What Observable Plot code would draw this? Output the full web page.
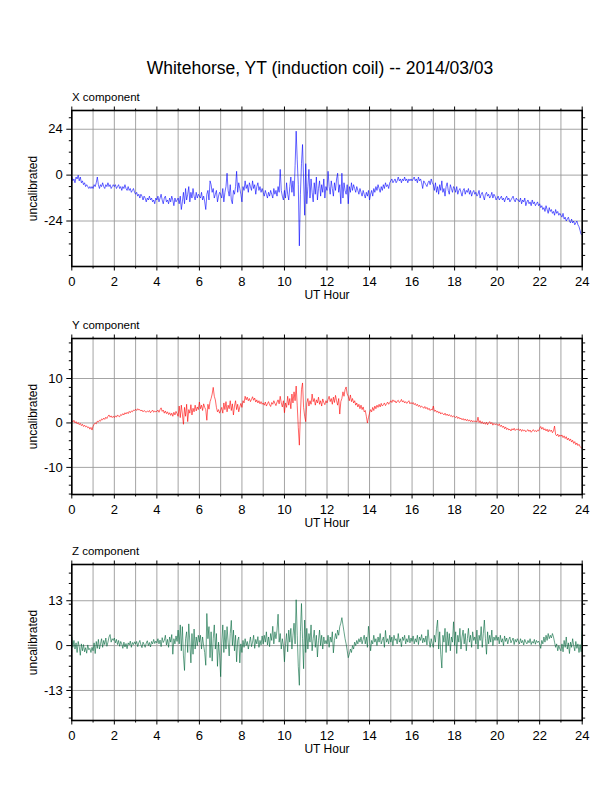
<!DOCTYPE html>
<html>
<head>
<meta charset="utf-8">
<script src="https://cdn.jsdelivr.net/npm/d3@7"></script>
<script src="https://cdn.jsdelivr.net/npm/@observablehq/plot@0.6"></script>
<style>
  html, body { margin: 0; padding: 0; background: #fff; }
  #page { position: relative; width: 612px; height: 792px; overflow: hidden;
          font-family: "Liberation Sans", Arial, Helvetica, sans-serif; color: #000; }
  .title { position: absolute; left: 0; width: 640px; text-align: center; font-size: 17.5px; line-height: 1; top: 60.2px; white-space: nowrap; }
  .plabel { position: absolute; left: 72px; font-size: 11.5px; line-height: 1; white-space: nowrap; }
  .panel { position: absolute; left: 0; }
</style>
</head>
<body>
<div id="page">
  <div class="title">Whitehorse, YT (induction coil) -- 2014/03/03</div>
</div>
<script>
// ---- data (samples every 0.05 h from 0 to 24 UT) ----
const xComponent = [
  -1,-3,-2,-4,-1,-2,0,-3,-1,-4,-3,-5,-4,-6,-5,-6,-7,-6,-7,-6,
  -7,-5,-6,-4,-1,-5,-7,-5,-6,-4,-6,-7,-5,-6,-4,-6,-5,-7,-6,-5,
  -6,-5,-7,-6,-5,-7,-6,-8,-6,-7,-5,-7,-8,-6,-8,-7,-9,-8,-7,-9,
  -10,-9,-11,-10,-12,-10,-11,-13,-11,-12,-14,-12,-13,-11,-13,-12,-14,-13,-15,-12,
  -13,-11,-14,-12,-10,-13,-15,-12,-11,-14,-13,-15,-12,-14,-11,-13,-16,-12,-14,-13,
  -12,-15,-11,-18,-14,-9,-15,-7,-13,-10,-6,-14,-9,-12,-7,-11,-13,-9,-12,-10,
  -11,-12,-9,-13,-11,-14,-18,-10,-8,-13,-3,-5,-9,-7,-12,-10,-8,-14,-11,-9,
  -10,-12,-7,-14,-9,-6,1,-8,-11,-5,-13,-15,-8,-10,-6,2,-9,-4,-7,-10,
  -14,-6,-8,-3,-7,-5,-9,-4,-6,-8,-3,-7,-5,-10,-6,-4,-8,-6,-9,-7,
  -9,-11,-8,-10,-12,-9,-11,-8,-10,-12,-7,-10,-8,-11,-6,-9,3,-8,-11,-13,
  -8,-12,-4,-10,-13,-6,-1,-9,-3,-11,5,23,8,-5,-37,-10,6,16,-2,-21,
  6,-15,-6,3,-12,-2,-9,-14,-4,-10,-1,-13,-7,-3,-11,-5,-9,-2,-12,-6,
  -8,2,-6,-10,-3,-7,-11,-4,-8,-2,1,-9,-5,-15,1,-12,-4,-8,-10,-5,
  -15,-6,-9,-4,-8,-5,-7,-9,-6,-8,-10,-7,-9,-11,-8,-10,-12,-9,-11,-8,
  -13,-10,-8,-11,-7,-9,-6,-8,-5,-7,-9,-6,-8,-5,-7,-4,-6,-5,-7,-4,
  -3,-2,-4,-3,-2,-4,-3,-1,-3,-2,-4,-2,-3,-1,-3,-2,-4,-2,-3,-2,
  -3,-2,-1,-3,-2,-4,-1,-3,-2,-4,-7,-3,-4,-5,-6,-4,-3,-5,-2,-4,
  -5,-8,-4,-9,-6,-10,-5,-8,-3,-9,-7,-11,-6,-4,-8,-10,-5,-7,-9,-6,
  -7,-9,-6,-10,-8,-7,-9,-11,-8,-7,-10,-8,-9,-7,-10,-8,-11,-9,-8,-10,
  -9,-11,-10,-8,-12,-10,-9,-11,-13,-10,-9,-11,-10,-12,-11,-9,-12,-10,-11,-13,
  -12,-11,-13,-12,-11,-13,-12,-14,-12,-11,-13,-12,-14,-13,-12,-11,-13,-14,-12,-13,
  -13,-14,-12,-15,-13,-14,-12,-16,-14,-13,-15,-14,-16,-13,-15,-14,-16,-15,-14,-16,
  -15,-17,-16,-18,-17,-19,-16,-18,-20,-17,-19,-18,-20,-19,-21,-18,-20,-19,-21,-20,
  -21,-22,-20,-23,-22,-24,-23,-22,-24,-25,-23,-25,-24,-26,-25,-24,-26,-27,-29,-31,
  -31
];
const yComponent = [
  0.5,0.2,0.6,0,0.3,-0.2,0.1,-0.4,-0.1,-0.6,-0.3,-0.8,-0.5,-0.9,-0.7,-1.1,-0.9,-1.4,-1.0,-1.6,
  -0.8,-0.3,0,-0.2,0.4,0.2,0.6,0.4,0.9,0.7,1.1,0.8,1.3,1.0,1.5,1.8,1.3,1.6,1.2,1.5,
  1.2,1.6,1.3,1.8,1.5,1.4,1.9,1.7,2.1,1.8,2.3,2.0,2.4,2.1,2.6,2.3,2.7,2.5,2.9,2.8,
  3.1,2.8,3.2,2.9,3.0,2.7,2.9,2.5,2.8,2.6,2.4,2.7,2.5,2.8,2.3,2.6,2.9,2.4,2.7,2.5,
  2.6,2.9,2.4,3.0,3.4,2.6,2.9,2.2,2.7,2.1,2.5,1.9,2.3,1.7,2.2,1.5,2.4,1.8,2.6,2.1,
  1.5,3.8,1.2,4.0,2.0,-0.3,3.5,1.5,4.2,0.3,3.0,2.2,4.1,1.8,3.3,2.5,4.0,2.7,3.6,3.0,
  4.7,3.2,4.0,2.8,4.3,3.5,3.0,0.6,4.2,3.1,4.8,5.5,6.5,8.0,6.0,5.2,3.5,2.5,3.0,2.2,
  2.8,3.5,2.2,4.5,3.0,4.8,2.5,4.0,3.2,5.0,2.8,4.3,1.8,3.8,5.0,3.0,4.2,2.5,3.6,4.4,
  3.5,5.0,4.5,6.0,5.2,5.8,5.0,5.5,4.8,5.3,5.9,5.1,5.6,4.7,5.2,4.5,5.0,4.3,4.8,4.2,
  4.5,4.0,4.7,3.8,4.3,4.8,4.1,3.7,4.6,4.2,5.0,4.4,3.9,4.7,5.2,4.3,6.0,4.5,3.6,5.0,
  2.3,4.5,3.5,6.0,4.0,5.5,3.2,6.5,4.5,7.0,5.0,8.3,4.0,-1.0,-5.0,2.0,7.5,9.0,3.5,1.5,
  0.3,4.5,5.5,3.8,5.0,4.2,6.5,4.8,5.5,4.0,5.2,4.5,5.8,4.2,5.0,3.8,5.4,4.6,4.1,5.0,
  4.5,5.3,6.0,4.8,5.5,4.2,5.8,4.6,6.2,5.0,4.0,5.5,2.0,4.8,5.5,7.0,6.0,7.5,8.1,6.5,
  6.0,5.0,6.3,4.8,5.5,4.5,5.0,4.0,4.5,3.6,4.2,3.2,4.0,3.0,3.6,2.5,2.8,1.5,0.0,1.2,
  2.2,3.0,2.5,3.5,2.8,3.8,3.2,4.0,3.5,4.2,3.6,4.4,3.8,4.1,4.5,3.9,4.3,4.7,4.2,4.6,
  5.0,4.6,5.2,4.8,5.0,4.5,4.9,5.1,4.6,4.8,5.3,4.7,5.0,4.5,4.8,4.4,4.7,5.0,4.3,4.6,
  4.3,4.6,4.1,4.4,3.9,4.2,3.7,4.0,3.5,3.8,3.6,3.3,3.7,3.2,3.5,3.0,3.3,2.8,3.1,2.9,
  3.8,2.6,2.9,2.4,2.7,2.2,2.5,2.0,2.3,2.1,1.8,2.2,1.7,2.0,1.6,1.9,1.5,1.7,1.3,1.6,
  1.4,1.2,1.5,1.0,1.3,0.9,1.1,0.7,1.0,0.6,0.9,0.5,0.8,0.4,0.7,0.3,0.6,0.2,0.5,0.3,
  0.4,0.2,1.3,0.1,0.5,-0.1,0.3,-0.2,0.1,-0.3,0.2,-0.4,0.0,0.3,-0.2,0.1,-0.5,-0.1,-0.4,-0.2,
  -0.3,-0.6,-0.2,-0.8,-0.5,-1.0,-0.7,-1.3,-0.9,-1.5,-1.2,-1.6,-1.4,-1.8,-1.3,-1.6,-1.2,-1.7,-1.4,-1.5,
  -1.3,-1.7,-1.4,-1.9,-1.5,-1.8,-1.6,-2.0,-1.7,-1.5,-1.9,-1.6,-2.1,-1.8,-1.5,-1.9,-1.7,-2.0,-1.6,-1.8,
  -1.2,-0.8,-1.4,-1.0,-1.6,-1.3,-1.8,-1.4,-2.0,-1.5,-1.9,-1.6,-2.2,-1.8,-0.7,-2.6,-2.9,-2.5,-3.1,-2.7,
  -3.0,-2.7,-3.3,-2.9,-3.5,-3.1,-3.8,-3.4,-4.0,-3.6,-4.3,-3.9,-4.6,-4.2,-4.9,-4.5,-5.1,-4.8,-5.3,-5.6,
  -5.8
];
const zComponent = [
  2.5,-0.5,1.5,-1.0,0.8,-2.0,1.2,-0.3,-2.8,0.5,-1.5,0.3,-1.8,-0.6,-2.2,0.2,-1.2,-0.8,-2.0,-0.5,
  -1.5,0.8,-2.3,1.2,-0.8,1.8,-1.0,0.5,2.0,-0.5,1.5,0.3,2.2,-0.2,1.0,2.5,3.2,1.0,2.0,1.5,
  2.2,0.8,1.8,0.3,1.5,-0.2,1.2,0.5,-0.8,1.0,-0.4,0.6,-0.9,0.8,0.2,1.3,-0.5,0.9,0.3,1.1,
  0.4,1.2,-0.3,0.8,1.5,0.2,-0.6,1.0,0.3,-0.5,0.7,1.4,0.0,0.9,-0.4,1.2,0.5,1.8,0.6,1.3,
  0.8,2.0,0.5,1.6,-0.3,2.3,0.9,1.5,3.0,0.2,1.8,-0.5,2.5,1.0,3.2,-2.5,2.0,0.5,2.8,1.2,
  4.5,0.5,6.0,-1.5,5.5,-3.0,-7.2,2.0,4.0,-2.0,6.3,1.0,-5.0,3.5,-2.5,4.8,-1.0,2.5,0.0,3.0,
  1.0,3.0,-1.0,2.5,0.0,-2.0,-5.7,9.3,2.0,5.5,-3.5,4.0,-4.5,2.0,6.0,-1.0,3.5,-6.0,1.0,-3.0,
  -9.0,0.5,6.0,-2.0,4.5,-1.0,5.5,1.0,-3.0,3.5,7.3,0.0,4.5,-1.5,3.0,-4.7,1.5,2.5,-5.0,0.5,
  -2.0,1.5,-0.5,2.0,0.0,1.2,-1.0,0.8,2.5,-0.3,1.0,3.0,-0.8,1.8,0.5,2.6,-0.5,1.5,0.2,2.8,
  0.5,3.0,1.0,4.0,0.2,2.5,-0.3,3.5,1.5,5.6,0.5,4.0,2.0,4.5,9.1,1.0,3.5,-1.0,2.0,0.0,
  -4.7,0.5,3.5,-1.8,4.5,1.0,5.0,-1.0,3.0,6.5,0.5,13.3,3.0,-6.0,-11.5,4.0,12.2,2.0,-6.7,7.4,
  -2.0,5.0,-1.0,3.5,1.0,6.0,-1.5,2.0,4.5,-0.5,3.0,-3.3,1.5,4.5,0.0,3.0,-1.0,2.5,0.5,1.5,
  0.5,3.0,-0.5,2.5,1.0,4.0,-2.1,1.5,3.5,2.0,4.5,3.0,5.5,6.5,8.1,6.0,4.0,2.0,0.5,-1.5,
  -3.5,-2.5,-1.0,-2.0,0.0,-1.0,1.0,0.0,1.5,0.5,2.0,1.0,2.5,0.5,1.8,3.0,0.5,2.5,-0.5,5.6,
  2.0,-1.5,1.5,0.5,3.0,1.0,2.0,0.0,2.5,1.0,3.5,0.5,1.5,2.5,-0.5,4.4,1.0,2.0,0.5,3.0,
  1.0,2.5,0.0,3.0,1.5,2.0,0.5,3.5,1.0,2.0,-0.3,2.5,1.5,3.0,0.5,2.0,1.0,3.0,0.8,2.2,
  1.2,2.8,0.5,2.0,1.0,3.0,0.3,2.5,1.5,3.2,0.8,2.2,1.0,2.8,0.2,4.6,1.5,-0.5,2.0,0.5,
  -0.5,3.0,1.0,5.0,7.4,-1.0,4.0,-2.5,-6.5,3.0,1.0,5.0,-2.0,4.0,0.0,3.5,-1.5,2.5,1.0,6.9,
  0.0,4.0,-2.3,3.0,1.0,5.0,-1.0,2.5,4.5,0.5,3.5,-1.5,2.0,5.0,1.0,3.0,-0.5,4.0,1.5,2.5,
  0.5,4.5,-1.0,3.0,1.5,5.5,-0.5,3.5,7.4,2.0,-2.5,4.0,0.5,3.0,1.0,4.5,0.0,2.5,1.5,3.0,
  1.5,2.5,0.5,3.0,1.0,2.0,0.0,2.8,1.2,2.2,0.5,1.8,2.5,0.8,1.5,2.2,0.3,1.8,1.0,2.0,
  1.2,0.5,2.0,0.8,1.5,0.2,1.8,1.0,0.5,1.5,0.8,2.0,0.3,1.2,0.7,1.8,0.4,1.5,0.9,1.3,
  0.5,-0.8,1.5,0.5,2.5,1.0,3.0,1.5,3.5,2.0,3.0,2.2,3.5,2.5,1.0,-0.5,0.5,-1.5,0.0,-1.0,
  -1.5,0.5,-1.8,1.5,-0.5,2.5,-1.0,0.8,-2.3,1.0,-0.5,2.0,0.0,-1.5,1.2,-0.8,0.5,-2.0,0.3,-1.8,
  5.5
];

// ---- ticks ----
const hourGrid = d3.range(0, 25, 1);
const hourMajor = [0, 2, 4, 6, 8, 10, 12, 14, 16, 18, 20, 22, 24];
const hourMinor = [1, 3, 5, 7, 9, 11, 13, 15, 17, 19, 21, 23];

const xMajor = [-24, 0, 24];
const xMinor = [-42, -36, -30, -18, -12, -6, 6, 12, 18, 30];
const yMajor = [-10, 0, 10];
const yMinor = [-16, -14, -12, -8, -6, -4, -2, 2, 4, 6, 8, 12, 14, 16, 18];
const zMajor = [-13, 0, 13];
const zMinor = [-21, -18, -15, -12, -9, -6, -3, 3, 6, 9, 12, 15, 18, 21];

const panelNames = ["X component", "Y component", "Z component"];
const panelColors = ["#0000ff", "#ff0000", "#00663a"];
const panelDomains = [[-47.8, 33.8], [-16.1, 19.0], [-21.7, 23.5]];
const panelTops = [110.3, 337.6, 564.3];

const series = [xComponent, yComponent, zComponent];
const majors = [xMajor, yMajor, zMajor];
const minors = [xMinor, yMinor, zMinor];

const FRAME_H = 156, MT = 8, MB = 45, ML = 71.3, MR = 30.3;
const blank = () => "";
const page = document.getElementById("page");

series.forEach((vals, k) => {
  const n = vals.length;
  const data = vals.map((v, i) => ({t: i * 24 / (n - 1), v}));
  const chart = Plot.plot({
    width: 612,
    height: FRAME_H + MT + MB,
    marginLeft: ML, marginRight: MR, marginTop: MT, marginBottom: MB,
    style: {fontFamily: "'Liberation Sans', Arial, Helvetica, sans-serif", fontSize: "13px", background: "transparent", overflow: "visible", color: "#000"},
    x: {domain: [0, 24], label: null},
    y: {domain: panelDomains[k], label: null},
    marks: [
      Plot.gridX({ticks: hourGrid, stroke: "#9a9a9a", strokeOpacity: 1, strokeWidth: 0.9}),
      Plot.gridY({ticks: majors[k], stroke: "#9a9a9a", strokeOpacity: 1, strokeWidth: 0.9}),
      Plot.line(data, {x: "t", y: "v", stroke: panelColors[k], strokeWidth: 0.6}),
      Plot.frame({stroke: "#000", strokeWidth: 1.6}),
      Plot.axisX({ticks: hourMajor, anchor: "bottom", tickSize: 4.5, tickPadding: 5.5, label: null, tickFormat: d => String(d), fontSize: 13}),
      Plot.axisX({ticks: hourMinor, anchor: "bottom", tickSize: 2.5, label: null, tickFormat: blank}),
      Plot.axisX({ticks: hourMajor, anchor: "top", tickSize: 4.5, label: null, tickFormat: blank}),
      Plot.axisX({ticks: hourMinor, anchor: "top", tickSize: 2.5, label: null, tickFormat: blank}),
      Plot.axisY({ticks: majors[k], anchor: "left", tickSize: 5, tickPadding: 4, label: null, tickFormat: d => String(d), fontSize: 13}),
      Plot.axisY({ticks: minors[k], anchor: "left", tickSize: 2.5, label: null, tickFormat: blank}),
      Plot.axisY({ticks: majors[k], anchor: "right", tickSize: 5, label: null, tickFormat: blank}),
      Plot.axisY({ticks: minors[k], anchor: "right", tickSize: 2.5, label: null, tickFormat: blank}),
      Plot.text(["UT Hour"], {frameAnchor: "bottom", dy: 32.5, fontSize: 12, textAnchor: "middle"}),
      Plot.text(["uncalibrated"], {frameAnchor: "left", dx: -39, rotate: -90, fontSize: 12, textAnchor: "middle"})
    ]
  });
  chart.classList.add("panel");
  chart.style.top = (panelTops[k] - MT) + "px";
  page.appendChild(chart);

  const lab = document.createElement("div");
  lab.className = "plabel";
  lab.textContent = panelNames[k];
  lab.style.top = (panelTops[k] - 8.3 - 9.7) + "px";
  page.appendChild(lab);
});
</script>
</body>
</html>
